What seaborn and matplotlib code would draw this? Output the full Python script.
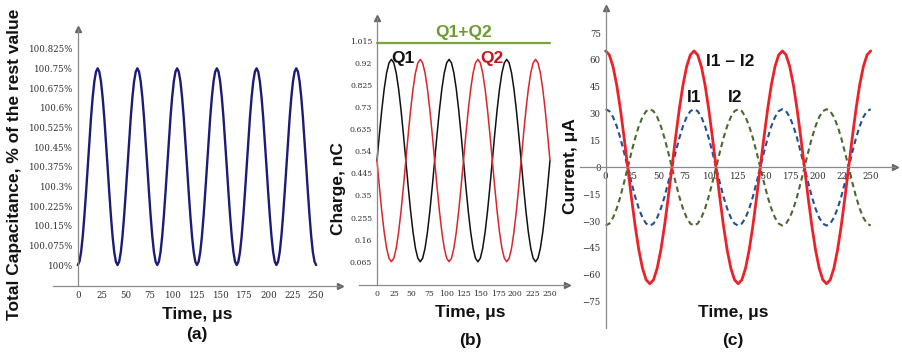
import numpy as np
import matplotlib
matplotlib.use("Agg")
import matplotlib.pyplot as plt
import seaborn as sns

# ---- (a) total capacitance, % of the rest value (read every 250/144 us) ----
time_a = np.linspace(0, 250, 145)
capacitance = [
    100.000, 100.013, 100.050, 100.110, 100.188, 100.278, 100.375, 100.472, 100.563, 100.640, 100.700, 100.737,
    100.750, 100.737, 100.700, 100.640, 100.563, 100.472, 100.375, 100.278, 100.188, 100.110, 100.050, 100.013,
    100.000, 100.013, 100.050, 100.110, 100.188, 100.278, 100.375, 100.472, 100.563, 100.640, 100.700, 100.737,
    100.750, 100.737, 100.700, 100.640, 100.563, 100.472, 100.375, 100.278, 100.188, 100.110, 100.050, 100.013,
    100.000, 100.013, 100.050, 100.110, 100.188, 100.278, 100.375, 100.472, 100.563, 100.640, 100.700, 100.737,
    100.750, 100.737, 100.700, 100.640, 100.563, 100.472, 100.375, 100.278, 100.188, 100.110, 100.050, 100.013,
    100.000, 100.013, 100.050, 100.110, 100.188, 100.278, 100.375, 100.472, 100.563, 100.640, 100.700, 100.737,
    100.750, 100.737, 100.700, 100.640, 100.563, 100.472, 100.375, 100.278, 100.188, 100.110, 100.050, 100.013,
    100.000, 100.013, 100.050, 100.110, 100.188, 100.278, 100.375, 100.472, 100.563, 100.640, 100.700, 100.737,
    100.750, 100.737, 100.700, 100.640, 100.563, 100.472, 100.375, 100.278, 100.188, 100.110, 100.050, 100.013,
    100.000, 100.013, 100.050, 100.110, 100.188, 100.278, 100.375, 100.472, 100.563, 100.640, 100.700, 100.737,
    100.750, 100.737, 100.700, 100.640, 100.563, 100.472, 100.375, 100.278, 100.188, 100.110, 100.050, 100.013,
    100.000,
]
cap_ticks = [100.0, 100.075, 100.15, 100.225, 100.3, 100.375, 100.45, 100.525, 100.6, 100.675, 100.75, 100.825]
cap_labels = ["100%", "100.075%", "100.15%", "100.225%", "100.3%", "100.375%", "100.45%",
              "100.525%", "100.6%", "100.675%", "100.75%", "100.825%"]

# ---- (b) charge, nC (read every 250/72 us) ----
time_bc = np.linspace(0, 250, 73)
q1 = [
    0.500, 0.613, 0.718, 0.808, 0.877, 0.920, 0.935, 0.920, 0.877, 0.808, 0.718, 0.613,
    0.500, 0.387, 0.282, 0.192, 0.123, 0.080, 0.065, 0.080, 0.123, 0.192, 0.282, 0.387,
    0.500, 0.613, 0.718, 0.808, 0.877, 0.920, 0.935, 0.920, 0.877, 0.808, 0.718, 0.613,
    0.500, 0.387, 0.282, 0.192, 0.123, 0.080, 0.065, 0.080, 0.123, 0.192, 0.282, 0.387,
    0.500, 0.613, 0.718, 0.808, 0.877, 0.920, 0.935, 0.920, 0.877, 0.808, 0.718, 0.613,
    0.500, 0.387, 0.282, 0.192, 0.123, 0.080, 0.065, 0.080, 0.123, 0.192, 0.282, 0.387,
    0.500,
]
q2 = [
    0.500, 0.387, 0.282, 0.192, 0.123, 0.080, 0.065, 0.080, 0.123, 0.192, 0.282, 0.387,
    0.500, 0.613, 0.718, 0.808, 0.877, 0.920, 0.935, 0.920, 0.877, 0.808, 0.718, 0.613,
    0.500, 0.387, 0.282, 0.192, 0.123, 0.080, 0.065, 0.080, 0.123, 0.192, 0.282, 0.387,
    0.500, 0.613, 0.718, 0.808, 0.877, 0.920, 0.935, 0.920, 0.877, 0.808, 0.718, 0.613,
    0.500, 0.387, 0.282, 0.192, 0.123, 0.080, 0.065, 0.080, 0.123, 0.192, 0.282, 0.387,
    0.500, 0.613, 0.718, 0.808, 0.877, 0.920, 0.935, 0.920, 0.877, 0.808, 0.718, 0.613,
    0.500,
]
qsum_time = [0, 250]
qsum = [1.005, 1.005]
charge_ticks = [0.065, 0.16, 0.255, 0.35, 0.445, 0.54, 0.635, 0.73, 0.825, 0.92, 1.015]
charge_labels = ["0.065", "0.16", "0.255", "0.35", "0.445", "0.54", "0.635", "0.73", "0.825", "0.92", "1.015"]

# ---- (c) current, uA ----
i1 = [
    32.5, 31.4, 28.1, 23.0, 16.3, 8.4, 0.0, -8.4, -16.3, -23.0, -28.1, -31.4,
    -32.5, -31.4, -28.1, -23.0, -16.3, -8.4, 0.0, 8.4, 16.3, 23.0, 28.1, 31.4,
    32.5, 31.4, 28.1, 23.0, 16.3, 8.4, 0.0, -8.4, -16.3, -23.0, -28.1, -31.4,
    -32.5, -31.4, -28.1, -23.0, -16.3, -8.4, 0.0, 8.4, 16.3, 23.0, 28.1, 31.4,
    32.5, 31.4, 28.1, 23.0, 16.3, 8.4, 0.0, -8.4, -16.3, -23.0, -28.1, -31.4,
    -32.5, -31.4, -28.1, -23.0, -16.3, -8.4, 0.0, 8.4, 16.3, 23.0, 28.1, 31.4,
    32.5,
]
i2 = [
    -32.5, -31.4, -28.1, -23.0, -16.3, -8.4, 0.0, 8.4, 16.3, 23.0, 28.1, 31.4,
    32.5, 31.4, 28.1, 23.0, 16.3, 8.4, 0.0, -8.4, -16.3, -23.0, -28.1, -31.4,
    -32.5, -31.4, -28.1, -23.0, -16.3, -8.4, 0.0, 8.4, 16.3, 23.0, 28.1, 31.4,
    32.5, 31.4, 28.1, 23.0, 16.3, 8.4, 0.0, -8.4, -16.3, -23.0, -28.1, -31.4,
    -32.5, -31.4, -28.1, -23.0, -16.3, -8.4, 0.0, 8.4, 16.3, 23.0, 28.1, 31.4,
    32.5, 31.4, 28.1, 23.0, 16.3, 8.4, 0.0, -8.4, -16.3, -23.0, -28.1, -31.4,
    -32.5,
]
i_diff = [
    65.0, 62.8, 56.3, 46.0, 32.5, 16.8, 0.0, -16.8, -32.5, -46.0, -56.3, -62.8,
    -65.0, -62.8, -56.3, -46.0, -32.5, -16.8, 0.0, 16.8, 32.5, 46.0, 56.3, 62.8,
    65.0, 62.8, 56.3, 46.0, 32.5, 16.8, 0.0, -16.8, -32.5, -46.0, -56.3, -62.8,
    -65.0, -62.8, -56.3, -46.0, -32.5, -16.8, 0.0, 16.8, 32.5, 46.0, 56.3, 62.8,
    65.0, 62.8, 56.3, 46.0, 32.5, 16.8, 0.0, -16.8, -32.5, -46.0, -56.3, -62.8,
    -65.0, -62.8, -56.3, -46.0, -32.5, -16.8, 0.0, 16.8, 32.5, 46.0, 56.3, 62.8,
    65.0,
]
current_ticks = [-75, -60, -45, -30, -15, 0, 15, 30, 45, 60, 75]

time_ticks = [0, 25, 50, 75, 100, 125, 150, 175, 200, 225, 250]

sns.set_style("white")
plt.rcParams["font.family"] = ["Liberation Sans", "DejaVu Sans"]

W, H = 902, 352
fig = plt.figure(figsize=(W / 100, H / 100), dpi=100)


def px_axes(left, top, right, bottom):
    # axes box given in pixel coordinates of the picture
    return fig.add_axes([left / W, 1 - bottom / H, (right - left) / W, (bottom - top) / H])


def fig_text(x, y, s, **kw):
    kw.setdefault("fontsize", 12.5)
    kw.setdefault("fontweight", "bold")
    kw.setdefault("color", "#111111")
    fig.text(x / W, 1 - y / H, s, ha="center", va="center", **kw)


AXIS_COL = "#8a8a8a"
TICK_FONT = ["DejaVu Serif"]


def style_axes(ax, xaxis_at_zero, label_size):
    for s in ["top", "right"]:
        ax.spines[s].set_visible(False)
    ax.spines["left"].set_position(("data", 0))
    if xaxis_at_zero:
        ax.spines["bottom"].set_position(("data", 0))
    for s in ["left", "bottom"]:
        ax.spines[s].set_color(AXIS_COL)
        ax.spines[s].set_linewidth(0.9)
    ax.tick_params(direction="inout", length=4, width=0.8, color=AXIS_COL,
                   labelcolor="#2e2e2e", labelsize=label_size, pad=1.5)
    for lab in ax.get_xticklabels() + ax.get_yticklabels():
        lab.set_family(TICK_FONT)
    # arrow heads at the axis ends
    ax.plot(0, 1, "^", color="#666666", ms=4, transform=ax.get_xaxis_transform(), clip_on=False)
    if xaxis_at_zero:
        ax.plot(1, 0, ">", color="#666666", ms=4, transform=ax.get_yaxis_transform(), clip_on=False)
    else:
        ax.plot(1, 0, ">", color="#666666", ms=4, transform=ax.transAxes, clip_on=False)
    ax.set_xlabel("")
    ax.set_ylabel("")


# ---------------- panel (a) ----------------
ax_a = px_axes(53, 29, 340, 286)
sns.lineplot(x=time_a, y=capacitance, ax=ax_a, color="#1c1c78", lw=1.7)
ax_a.set_xlim(-26, 275)
ax_a.set_ylim(99.92, 100.9)
ax_a.set_xticks([-25] + time_ticks, [""] + [str(t) for t in time_ticks])
ax_a.set_yticks(cap_ticks, cap_labels)
style_axes(ax_a, False, 6.2)

fig_text(15, 164, "Total Capacitance, % of the rest value", rotation=90)
fig_text(197, 315, "Time, μs")
fig_text(197, 334, "(a)")

# ---------------- panel (b) ----------------
ax_b = px_axes(359, 18, 567, 285)
sns.lineplot(x=qsum_time, y=qsum, ax=ax_b, color="#78a63a", lw=1.6)
sns.lineplot(x=time_bc, y=q1, ax=ax_b, color="#111111", lw=1.1)
sns.lineplot(x=time_bc, y=q2, ax=ax_b, color="#d8262c", lw=1.1)
ax_b.set_xlim(-26, 274.6)
ax_b.set_ylim(-0.035, 1.113)
ax_b.set_xticks([-25] + time_ticks, [""] + [str(t) for t in time_ticks])
ax_b.set_yticks(charge_ticks, charge_labels)
style_axes(ax_b, False, 5.6)

fig_text(464, 33, "Q1+Q2", color="#6f9a32")
fig_text(403, 59, "Q1")
fig_text(492, 59, "Q2", color="#c8141c")
fig_text(338, 189, "Charge, nC", rotation=90)
fig_text(470, 313, "Time, μs")
fig_text(470, 340, "(b)")

# ---------------- panel (c) ----------------
ax_c = px_axes(580, 8, 895, 328)
sns.lineplot(x=time_bc, y=i1, ax=ax_c, color="#1f4f96", lw=1.5, linestyle=(0, (2.6, 1.8)))
sns.lineplot(x=time_bc, y=i2, ax=ax_c, color="#4a6a2c", lw=1.5, linestyle=(0, (2.6, 1.8)))
sns.lineplot(x=time_bc, y=i_diff, ax=ax_c, color="#ec2228", lw=2.0)
ax_c.set_xlim(-24.2, 272.9)
ax_c.set_ylim(-89.7, 89)
ax_c.set_xticks(time_ticks, [str(t) for t in time_ticks])
ax_c.set_yticks(current_ticks, [str(t).replace("-", "\u2212") for t in current_ticks])
style_axes(ax_c, True, 6.2)

fig_text(730, 62, "I1 \u2013 I2")
fig_text(694, 97, "I1")
fig_text(735, 97, "I2")
fig_text(570, 166, "Current, μA", rotation=90)
fig_text(733, 313, "Time, μs")
fig_text(733, 340, "(c)")

fig.savefig("out.png", dpi=100)
